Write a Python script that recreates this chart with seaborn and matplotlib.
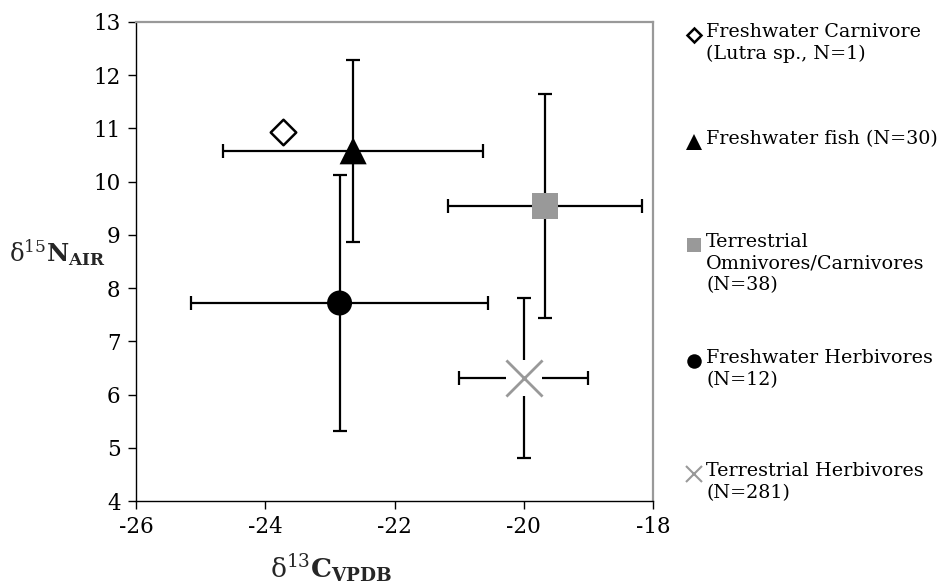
import matplotlib
matplotlib.use("Agg")
import matplotlib.pyplot as plt
from matplotlib.lines import Line2D
import seaborn as sns
import pandas as pd

# Group means and standard deviations (d13C, d15N)
groups = ["Freshwater Carnivore", "Freshwater fish", "Terrestrial Omnivores/Carnivores",
          "Freshwater Herbivores", "Terrestrial Herbivores"]
legend_labels = ["Freshwater Carnivore\n(Lutra sp., N=1)",
                 "Freshwater fish (N=30)",
                 "Terrestrial\nOmnivores/Carnivores\n(N=38)",
                 "Freshwater Herbivores\n(N=12)",
                 "Terrestrial Herbivores\n(N=281)"]
c13_mean = [-23.72, -22.64, -19.67, -22.85, -20.00]
n15_mean = [10.94, 10.58, 9.545, 7.72, 6.31]
c13_sd = [0.0, 2.01, 1.50, 2.30, 1.00]
n15_sd = [0.0, 1.71, 2.10, 2.40, 1.50]

x_ticks = [-26, -24, -22, -20, -18]
y_ticks = [4, 5, 6, 7, 8, 9, 10, 11, 12, 13]

df = pd.DataFrame({"group": groups, "c13": c13_mean, "n15": n15_mean,
                   "c13_sd": c13_sd, "n15_sd": n15_sd})

sns.set_theme(style="white")
plt.rcParams["font.family"] = ["DejaVu Serif"]
plt.rcParams["mathtext.fontset"] = "dejavuserif"

W, H = 951, 584
fig = plt.figure(figsize=(W / 100, H / 100), dpi=100)
ax = fig.add_axes([136 / W, 1 - 501 / H, (653 - 136) / W, (501 - 22) / H])

# marker styles per group: (marker, size in pt, face, edge, edge width)
styles = {
    "Freshwater Carnivore": ("D", 13, "white", "black", 1.8),
    "Freshwater fish": ("^", 19.5, "black", "none", 0),
    "Terrestrial Omnivores/Carnivores": ("s", 18.5, "#999999", "none", 0),
    "Freshwater Herbivores": ("o", 18, "black", "none", 0),
    "Terrestrial Herbivores": ("x", 26, "#999999", "#999999", 2.0),
}

# error bars
for _, r in df.iterrows():
    if r["c13_sd"] > 0 or r["n15_sd"] > 0:
        ax.errorbar(r["c13"], r["n15"], xerr=r["c13_sd"], yerr=r["n15_sd"],
                    fmt="none", ecolor="black", elinewidth=1.6,
                    capsize=4.8, capthick=1.6, zorder=2)

# means
for _, r in df.iterrows():
    m, ms, fc, ec, lw = styles[r["group"]]
    sub = df[df["group"] == r["group"]]
    if m == "x":
        # white patch clears the bars around the cross
        sns.scatterplot(data=sub, x="c13", y="n15", marker="s", s=ms ** 2,
                        color="white", edgecolor="none", ax=ax, zorder=3,
                        legend=False)
        sns.scatterplot(data=sub, x="c13", y="n15", marker="x", s=ms ** 2,
                        color=fc, linewidth=lw, ax=ax, zorder=4, legend=False)
    else:
        sns.scatterplot(data=sub, x="c13", y="n15", marker=m, s=ms ** 2,
                        color=fc, edgecolor=ec, linewidth=lw, ax=ax,
                        zorder=4, legend=False)

ax.set_xlim(-26, -18)
ax.set_ylim(4, 13)
ax.set_xticks(x_ticks)
ax.set_yticks(y_ticks)
ax.set_xticklabels([str(t) for t in x_ticks])
ax.set_yticklabels([str(t) for t in y_ticks])
ax.tick_params(axis="both", direction="out", width=1, color="black",
               labelsize=15.5, labelcolor="black")
ax.tick_params(axis="y", left=True, length=6, pad=5)
ax.tick_params(axis="x", bottom=True, length=6, pad=5)
for side in ["left", "bottom"]:
    ax.spines[side].set_color("black")
    ax.spines[side].set_linewidth(1.0)
for side in ["top", "right"]:
    ax.spines[side].set_color("#999999")
    ax.spines[side].set_linewidth(1.6)
ax.set_xlabel("")
ax.set_ylabel("")

# axis titles
fig.text(331 / W, 1 - 578 / H, r"$\mathrm{\delta}^{13}\mathbf{C}_{\mathbf{VPDB}}$",
         ha="center", va="baseline", fontsize=19, fontweight="bold")
fig.text(106 / W, 1 - 262 / H, r"$\mathrm{\delta}^{15}\mathbf{N}_{\mathbf{AIR}}$",
         ha="right", va="baseline", fontsize=17.5, fontweight="bold")

# legend, drawn entry by entry on the right
leg_y = [35, 142, 245, 361, 474]
for g, lab, yc in zip(groups, legend_labels, leg_y):
    m, ms, fc, ec, lw = styles[g]
    if m == "x":
        size, edge, ew = 12, fc, 1.5
    else:
        size, edge, ew = ms * 0.58, ec, lw
    fig.add_artist(Line2D([694 / W], [1 - yc / H], transform=fig.transFigure,
                          marker=m, markersize=size, markerfacecolor=fc,
                          markeredgecolor=edge, markeredgewidth=ew,
                          linestyle="none"))
    fig.text(706 / W, 1 - (yc - 12) / H, lab, ha="left", va="top",
             fontsize=13.8, linespacing=1.27, color="black")

fig.savefig("out.png", dpi=100, facecolor="white")
